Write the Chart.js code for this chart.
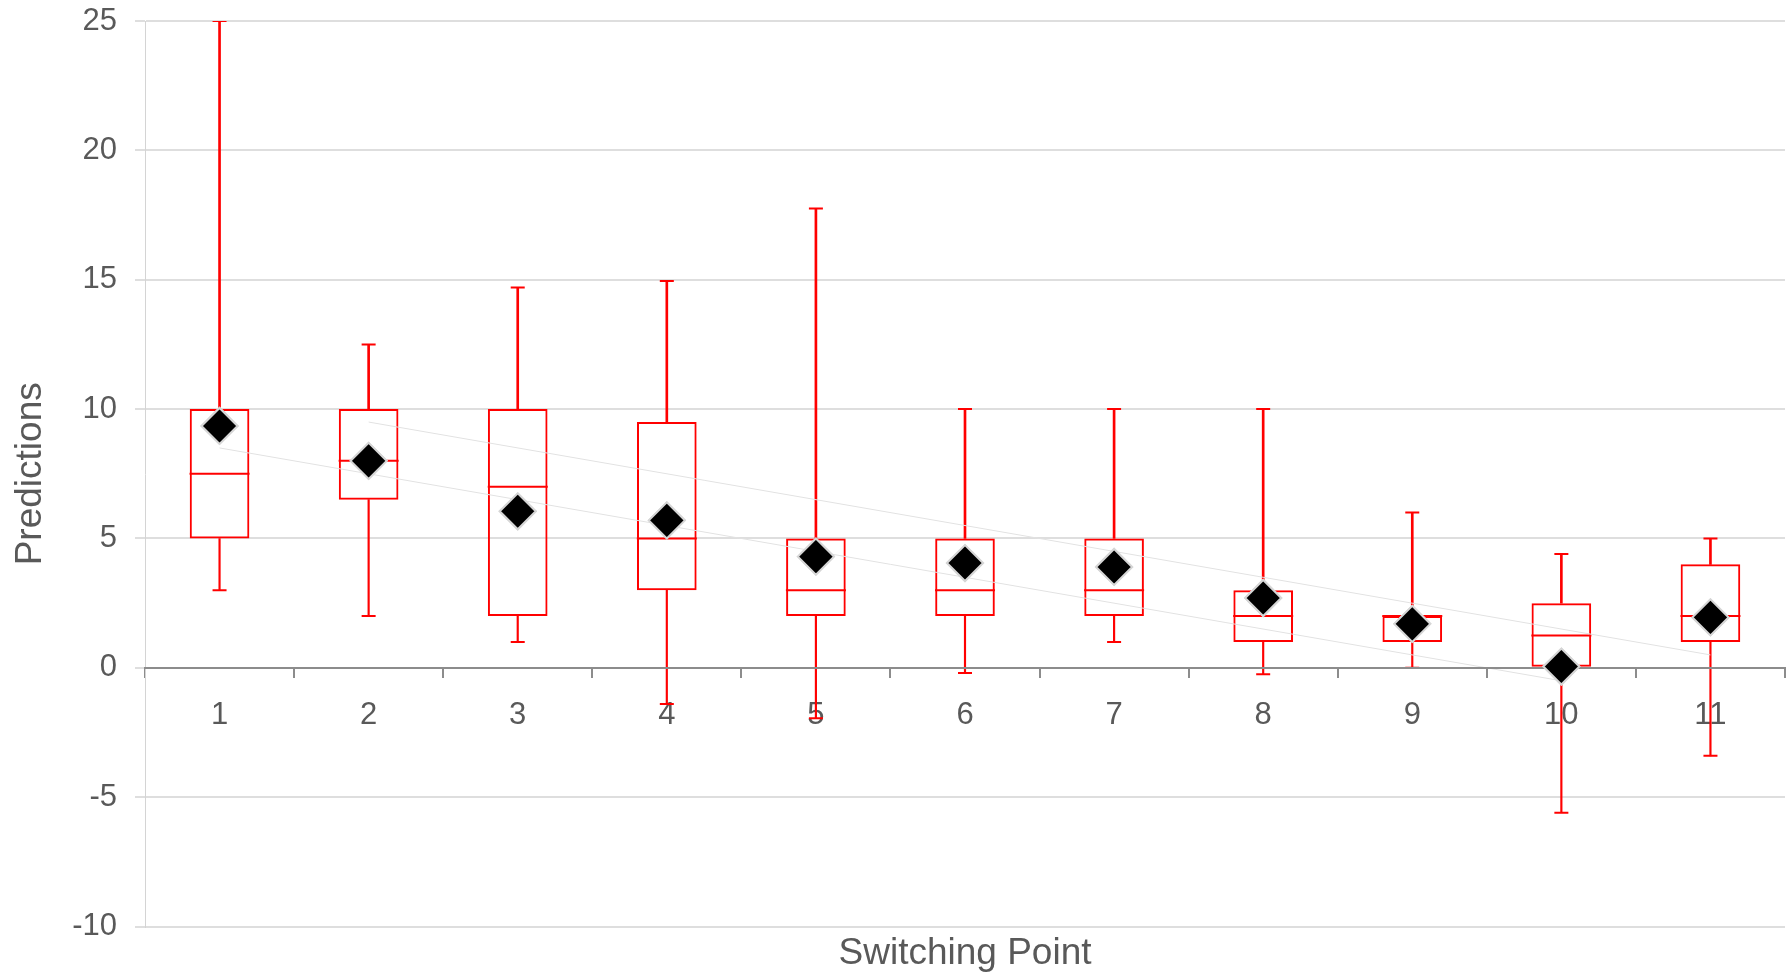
<!DOCTYPE html>
<html>
<head>
<meta charset="utf-8">
<title>Predictions by Switching Point</title>
<script src="https://cdn.jsdelivr.net/npm/chart.js@4.4.1/dist/chart.umd.min.js"></script>
<style>
  html, body { margin: 0; padding: 0; background: #ffffff; }
  #wrap { position: relative; width: 1791px; height: 977px; }
</style>
</head>
<body>
<div id="wrap"><canvas id="chart"></canvas></div>
<script>
// Switching points on the category axis
const categories = ['1', '2', '3', '4', '5', '6', '7', '8', '9', '10', '11'];

// Five-number summaries of the predictions per switching point
const whiskerMax = [25, 12.5, 14.7, 14.95, 17.75, 10, 10, 10, 6, 4.4, 5];
const upperQuartile = [10, 10, 10, 9.5, 5, 5, 5, 3, 2, 2.5, 4];
const medianValues = [7.5, 8, 7, 5, 3, 3, 3, 2, 2, 1.25, 2];
const lowerQuartile = [5, 6.5, 2, 3, 2, 2, 2, 1, 1, 0, 1];
const whiskerMin = [3, 2, 1, -1.4, -1.95, -0.2, 1, -0.25, 0, -5.6, -3.4];

// Mean prediction per switching point
const meanValues = [9.35, 8, 6.05, 5.7, 4.3, 4.05, 3.9, 2.7, 1.7, 0.05, 1.95];

// Two guide lines (value at start point, value at end point)
const guideA = [8.5, null, null, null, null, null, null, null, null, -0.5, null];
const guideB = [null, 9.5, null, null, null, null, null, null, null, null, 0.5];

// Y axis range and tick step
const yMin = -10;
const yMax = 25;
const yStep = 5;

const RED = '#ff0000';
const TEXT = '#595959';

Chart.defaults.font.family = "'Liberation Sans', Arial, sans-serif";

// Re-draw the mean markers after the axis line so they sit above it
const meansOnTop = {
  id: 'meansOnTop',
  afterDraw(chart) {
    chart.data.datasets.forEach((ds, i) => {
      if (ds.id === 'means') {
        chart.getDatasetMeta(i).controller.draw();
      }
    });
  }
};

const boxData = lowerQuartile.map((q1, i) => [q1, upperQuartile[i]]);
const upperWhisker = upperQuartile.map((q3, i) => [q3, whiskerMax[i]]);
const lowerWhisker = lowerQuartile.map((q1, i) => [whiskerMin[i], q1]);

new Chart(document.getElementById('chart'), {
  type: 'bar',
  data: {
    labels: categories,
    datasets: [
      {
        id: 'means',
        type: 'line',
        data: meanValues,
        showLine: false,
        pointStyle: 'rectRot',
        pointRadius: 18,
        pointBackgroundColor: '#000000',
        pointBorderColor: '#d6d6d6',
        pointBorderWidth: 2,
        order: 0
      },
      {
        type: 'line',
        data: guideA,
        spanGaps: true,
        borderColor: '#e2e2e2',
        borderWidth: 1,
        pointRadius: 0,
        fill: false,
        order: 1
      },
      {
        type: 'line',
        data: guideB,
        spanGaps: true,
        borderColor: '#e2e2e2',
        borderWidth: 1,
        pointRadius: 0,
        fill: false,
        order: 1
      },
      {
        type: 'line',
        data: medianValues,
        showLine: false,
        pointStyle: 'line',
        pointRadius: 30,
        pointBorderColor: RED,
        pointBorderWidth: 2,
        order: 2
      },
      {
        type: 'line',
        data: whiskerMax,
        showLine: false,
        pointStyle: 'line',
        pointRadius: 7,
        pointBorderColor: RED,
        pointBorderWidth: 2,
        order: 2
      },
      {
        type: 'line',
        data: whiskerMin,
        showLine: false,
        pointStyle: 'line',
        pointRadius: 7,
        pointBorderColor: RED,
        pointBorderWidth: 2,
        order: 2
      },
      {
        data: boxData,
        backgroundColor: 'rgba(255,255,255,0)',
        borderColor: RED,
        borderWidth: 2,
        borderSkipped: false,
        barPercentage: 0.4,
        categoryPercentage: 1,
        grouped: false,
        order: 3
      },
      {
        data: upperWhisker,
        backgroundColor: RED,
        borderWidth: 0,
        barThickness: 2,
        grouped: false,
        order: 4
      },
      {
        data: lowerWhisker,
        backgroundColor: RED,
        borderWidth: 0,
        barThickness: 1.5,
        grouped: false,
        order: 4
      }
    ]
  },
  options: {
    responsive: true,
    maintainAspectRatio: false,
    animation: false,
    events: [],
    layout: { autoPadding: false, padding: { top: 21, right: 6, bottom: 0, left: 0 } },
    plugins: {
      legend: { display: false },
      tooltip: { enabled: false }
    },
    scales: {
      x: {
        type: 'category',
        position: 'bottom',
        offset: true,
        grid: { display: false, drawTicks: false },
        border: { display: false },
        ticks: { display: false },
        title: {
          display: true,
          text: 'Switching Point',
          color: TEXT,
          font: { size: 37 },
          padding: { top: 5, bottom: 1 }
        }
      },
      x2: {
        type: 'category',
        axis: 'x',
        position: { y: 0 },
        offset: true,
        grid: {
          display: true,
          offset: true,
          drawOnChartArea: false,
          drawTicks: true,
          tickLength: 9,
          color: '#8c8c8c',
          lineWidth: 2
        },
        border: { display: true, color: '#8c8c8c', width: 2, z: 1 },
        ticks: {
          color: TEXT,
          font: { size: 31 },
          padding: 20,
          maxRotation: 0,
          autoSkip: false
        },
        afterFit(scale) { scale.height = 0; }
      },
      y: {
        type: 'linear',
        position: 'left',
        min: yMin,
        max: yMax,
        ticks: {
          stepSize: yStep,
          color: TEXT,
          font: { size: 31 },
          padding: 18
        },
        grid: {
          color: '#dedede',
          lineWidth: 2,
          drawTicks: true,
          tickLength: 10
        },
        border: { display: true, color: '#d4d4d4', width: 1 },
        title: {
          display: true,
          text: 'Predictions',
          color: TEXT,
          font: { size: 37 },
          padding: { top: 9, bottom: 0 }
        },
        afterFit(scale) {
          scale.width = 145;
          scale.paddingTop = 0;
          scale.paddingBottom = 0;
        }
      }
    }
  },
  plugins: [meansOnTop]
});
</script>
</body>
</html>
